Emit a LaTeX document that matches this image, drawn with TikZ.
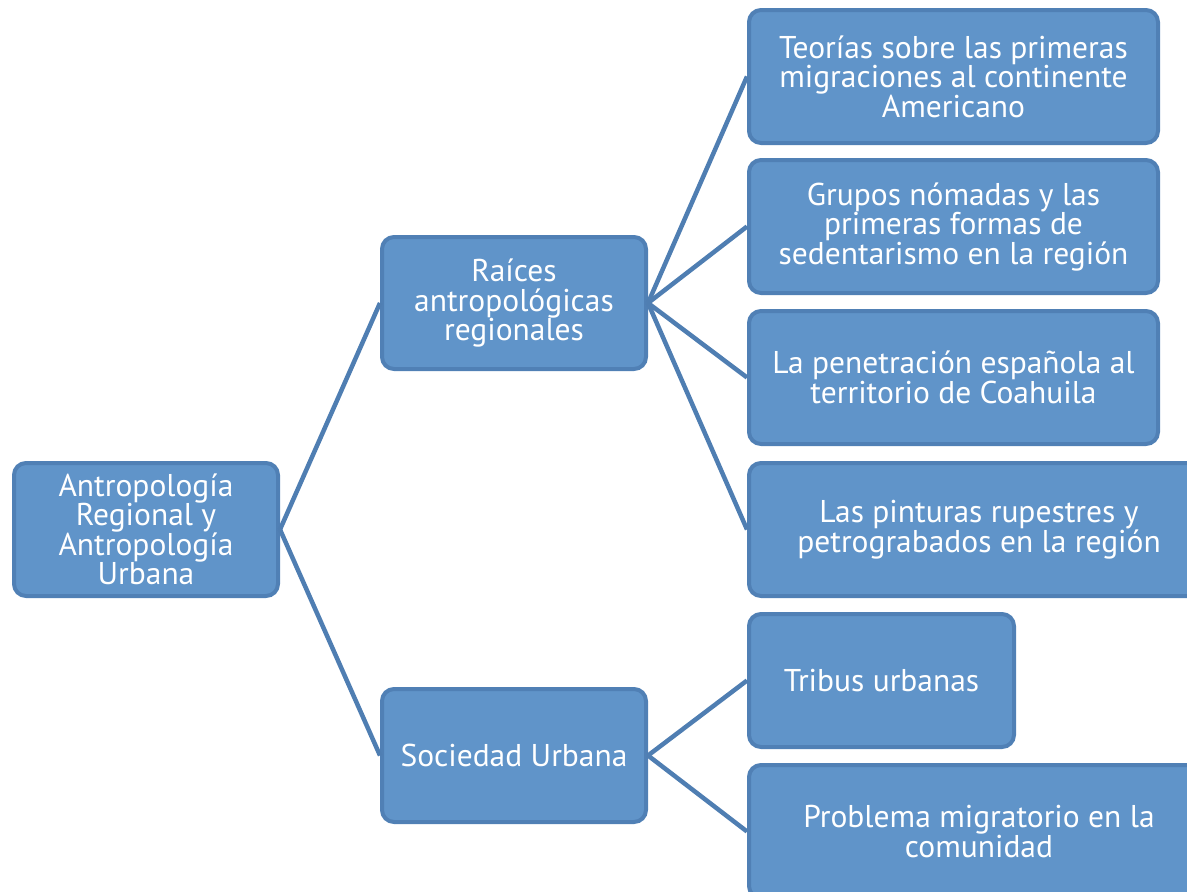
\documentclass[tikz,border=0pt]{standalone}
\usepackage{fontspec}
\setmainfont{PT Sans}
\definecolor{boxfill}{RGB}{96,148,201}
\definecolor{boxedge}{RGB}{80,128,181}
\definecolor{linkcol}{RGB}{79,126,178}
\tikzset{
  card/.style={draw=boxedge, fill=boxfill, line width=4pt, rounded corners=12pt,
    text=white, align=center, inner sep=0pt, font=\fontsize{31.5}{29.5}\selectfont},
  link/.style={draw=linkcol, line width=4.5pt}
}
\begin{document}
\begin{tikzpicture}[x=1pt,y=-1pt]
\useasboundingbox (0,0) rectangle (1187,892);
\clip (0,0) rectangle (1187,892);
\node[card, minimum width=264pt, minimum height=133pt] (root) at (146,529.5)
  {Antropología\\Regional y\\Antropología\\Urbana};
\node[card, minimum width=264pt, minimum height=132pt] (raices) at (514,303)
  {Raíces\\antropológicas\\regionales};
\node[card, minimum width=264pt, minimum height=133pt] (soc) at (514,755.5)
  {Sociedad Urbana};
\node[card, minimum width=409pt, minimum height=133pt] (t1) at (953.5,76.5)
  {Teorías sobre las primeras\\migraciones al continente\\Americano};
\node[card, minimum width=409pt, minimum height=133pt] (t2) at (953.5,226.5)
  {Grupos nómadas y las\\primeras formas de\\sedentarismo en la región};
\node[card, minimum width=409pt, minimum height=133pt] (t3) at (953.5,377.5)
  {La penetración española al\\territorio de Coahuila};
\node[card, minimum width=460pt, minimum height=133pt] (t4) at (979,529.5)
  {Las pinturas rupestres y\\petrograbados en la región};
\node[card, minimum width=265pt, minimum height=133pt] (tribus) at (881.5,680.5)
  {Tribus urbanas};
\node[card, minimum width=460pt, minimum height=133pt] (prob) at (979,831.5)
  {Problema migratorio en la\\comunidad};
\draw[link] (root.east) -- (raices.west);
\draw[link] (root.east) -- (soc.west);
\draw[link] (raices.east) -- (t1.west);
\draw[link] (raices.east) -- (t2.west);
\draw[link] (raices.east) -- (t3.west);
\draw[link] (raices.east) -- (t4.west);
\draw[link] (soc.east) -- (tribus.west);
\draw[link] (soc.east) -- (prob.west);
\end{tikzpicture}
\end{document}
